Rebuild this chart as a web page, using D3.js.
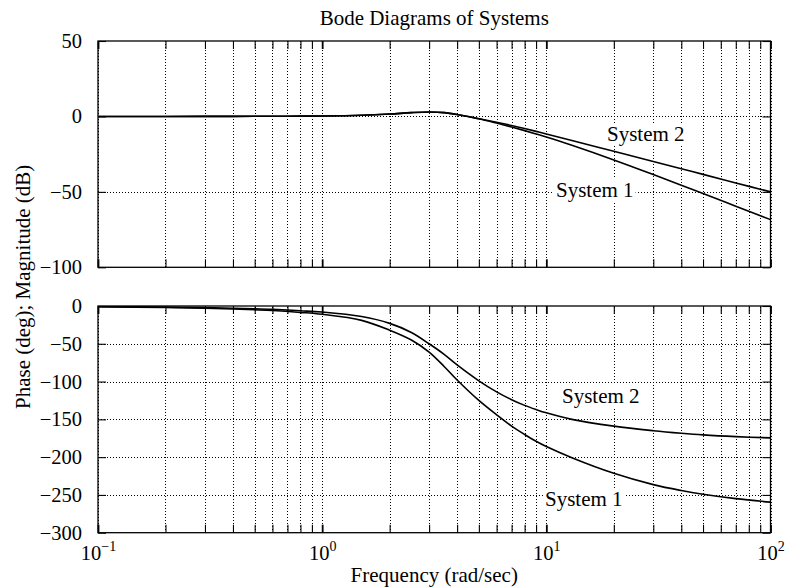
<!DOCTYPE html>
<html>
<head>
<meta charset="utf-8">
<script src="https://cdn.jsdelivr.net/npm/d3@7"></script>
<style>
  html, body { margin: 0; padding: 0; background: #fff; }
  svg { display: block; }
  svg text { font-family: "Liberation Serif", "Times New Roman", serif !important; }
</style>
</head>
<body>
<svg id="chart" width="786" height="587"></svg>
<script>
// ---------------- data ----------------
const freq = [0.1, 0.2, 0.3, 0.4, 0.5, 0.6, 0.8, 1, 1.5, 2, 2.5, 3, 3.5, 4, 5, 6, 7, 8, 9, 10, 13, 20, 30, 40, 50, 70, 100];
const magSystem1 = [0, 0, 0.02, 0.05, 0.08, 0.1, 0.2, 0.3, 0.8, 1.6, 2.5, 2.9, 2.5, 1.3, -1.5, -4.4, -7.0, -9.4, -11.6, -13.6, -19.1, -28.8, -38.5, -45.6, -51.1, -59.5, -68.4];
const magSystem2 = [0, 0, 0.02, 0.05, 0.08, 0.1, 0.2, 0.3, 0.8, 1.6, 2.5, 2.9, 2.5, 1.3, -1.5, -3.9, -6.0, -8.0, -9.9, -11.6, -15.9, -23.1, -29.9, -34.7, -38.4, -44.1, -50.0];
const phaseSystem1 = [-1, -2, -3, -4, -5, -6, -8.5, -11, -19, -32, -45, -61, -80, -98, -125, -144, -159, -170, -179, -186, -200.8, -221.4, -236.4, -244.2, -249.1, -254.9, -259.6];
const phaseSystem2 = [-0.8, -1.5, -2.2, -2.9, -3.6, -4.4, -6.3, -8, -14, -23, -35, -50, -64, -78, -99, -113.6, -124, -131.5, -137, -141.4, -150, -159, -165, -168.4, -170.6, -172.9, -174.5];

const magTicks = [50, 0, -50, -100];
const phaseTicks = [0, -50, -100, -150, -200, -250, -300];
const decadeTicks = [0.1, 1, 10, 100];
const decadeExponents = ["\u22121", "0", "1", "2"];
const seriesNames = ["System 1", "System 2"];

const titleText = "Bode Diagrams of Systems";
const xLabelText = "Frequency (rad/sec)";
const yLabelText = "Phase (deg); Magnitude (dB)";

// ---------------- layout ----------------
const svg = d3.select("#chart");
const FONT = "Liberation Serif, Times New Roman, serif";
const L = 98, R = 770.5;
const magTop = 41, magBottom = 267.3;
const phTop = 306, phBottom = 532.7;

const x = d3.scaleLog().domain([0.1, 100]).range([L, R]);
const yMag = d3.scaleLinear().domain([-100, 50]).range([magBottom, magTop]);
const yPh = d3.scaleLinear().domain([-300, 0]).range([phBottom, phTop]);

const allXTicks = x.ticks(); // 0.1,0.2,...,100
const fmtMinus = d => (d < 0 ? "\u2212" + Math.abs(d) : String(d));

function panel(id, y, top, bottom, yTicks, s1, s2, labels) {
  const g = svg.append("g");
  const h = bottom - top;

  const gridStyle = a => {
    a.select(".domain").remove();
    a.selectAll("line")
      .attr("stroke", "#000").attr("stroke-width", 1)
      .attr("stroke-dasharray", "1,2").attr("shape-rendering", "crispEdges");
  };
  // vertical grid (dotted)
  g.append("g")
    .attr("transform", `translate(0,${bottom})`)
    .call(d3.axisBottom(x).tickValues(allXTicks).tickSize(-h).tickFormat(""))
    .call(gridStyle);
  // horizontal grid (dotted)
  g.append("g")
    .attr("transform", `translate(${L},0)`)
    .call(d3.axisLeft(y).tickValues(yTicks.filter(t => t !== y.domain()[0] && t !== y.domain()[1])).tickSize(-(R - L)).tickFormat(""))
    .call(gridStyle);

  // series labels with white background (under curves)
  labels.forEach(lb => {
    const lg = g.append("g");
    const t = lg.append("text")
      .attr("x", lb.x).attr("y", lb.y)
      .style("font-family", FONT)
      .attr("font-size", 21).attr("fill", "#000")
      .text(lb.text);
    const bb = t.node().getBBox();
    lg.insert("rect", "text")
      .attr("x", bb.x - 2).attr("y", bb.y + 1).attr("width", bb.width + 4).attr("height", bb.height - 2)
      .attr("fill", "#fff");
  });

  // curves
  const clipId = "clip-" + id;
  svg.append("clipPath").attr("id", clipId)
    .append("rect").attr("x", L).attr("y", top).attr("width", R - L).attr("height", h);
  const line = d3.line()
    .x(d => x(d[0]))
    .y(d => y(d[1]))
    .curve(d3.curveCatmullRom.alpha(0.5));
  [s1, s2].forEach(s => {
    g.append("path")
      .attr("clip-path", `url(#${clipId})`)
      .attr("d", line(freq.map((f, i) => [f, s[i]])))
      .attr("fill", "none")
      .attr("stroke", "#000")
      .attr("stroke-width", 1.6);
  });

  // ticks: bottom & top edges
  const tickStyle = a => {
    a.select(".domain").remove();
    a.selectAll(".tick line").attr("stroke", "#000")
      .attr("stroke-width", d => decadeTicks.includes(d) ? 1.8 : 1.1);
  };
  g.append("g").attr("transform", `translate(0,${bottom})`)
    .call(d3.axisBottom(x).tickValues(allXTicks).tickSize(-8).tickFormat(""))
    .call(tickStyle);
  g.append("g").attr("transform", `translate(0,${top})`)
    .call(d3.axisTop(x).tickValues(allXTicks).tickSize(-8).tickFormat(""))
    .call(tickStyle);

  // y axis left (with labels) and right ticks
  g.append("g").attr("transform", `translate(${L},0)`)
    .call(d3.axisLeft(y).tickValues(yTicks).tickSizeInner(-8).tickSizeOuter(0).tickPadding(16).tickFormat(fmtMinus))
    .call(a => a.select(".domain").remove())
    .call(a => a.selectAll(".tick line").attr("stroke", "#000").attr("stroke-width", 1.1))
    .call(a => a.selectAll(".tick text").style("font-family", FONT).attr("font-size", 20.5).attr("fill", "#000"));
  g.append("g").attr("transform", `translate(${R},0)`)
    .call(d3.axisRight(y).tickValues(yTicks).tickSizeInner(-8).tickSizeOuter(0).tickFormat(""))
    .call(a => a.select(".domain").remove())
    .call(a => a.selectAll(".tick line").attr("stroke", "#000").attr("stroke-width", 1.1));

  // frame
  g.append("rect")
    .attr("x", L).attr("y", top).attr("width", R - L).attr("height", h)
    .attr("fill", "none").attr("stroke", "#000").attr("stroke-width", 1.3);
  return g;
}

panel("mag", yMag, magTop, magBottom, magTicks, magSystem1, magSystem2, [
  { text: seriesNames[1], x: 607, y: 141 },
  { text: seriesNames[0], x: 556, y: 197 }
]);
panel("ph", yPh, phTop, phBottom, phaseTicks, phaseSystem1, phaseSystem2, [
  { text: seriesNames[1], x: 562, y: 403 },
  { text: seriesNames[0], x: 545, y: 506 }
]);

// x decade labels (10^n) under the phase panel
const xl = svg.append("g").attr("transform", `translate(0,${phBottom})`)
  .call(d3.axisBottom(x).tickValues(decadeTicks).tickSize(0).tickFormat(""));
xl.select(".domain").remove();
xl.selectAll(".tick").each(function(d, i) {
  const t = d3.select(this).append("text")
    .attr("y", 27.5)
    .attr("fill", "#000")
    .attr("text-anchor", "middle")
    .style("font-family", FONT)
    .attr("font-size", 20.5);
  t.append("tspan").text("10");
  t.append("tspan").attr("dy", -9).attr("font-size", 14).text(decadeExponents[i]);
});

// title and axis labels
svg.append("text")
  .attr("x", (L + R) / 2).attr("y", 25)
  .style("font-family", FONT)
  .attr("text-anchor", "middle").attr("font-size", 21).attr("fill", "#000")
  .text(titleText);
svg.append("text")
  .attr("x", (L + R) / 2).attr("y", 582)
  .style("font-family", FONT)
  .attr("text-anchor", "middle").attr("font-size", 21).attr("fill", "#000")
  .text(xLabelText);
svg.append("text")
  .attr("transform", `translate(30,${(magTop + phBottom) / 2}) rotate(-90)`)
  .style("font-family", FONT)
  .attr("text-anchor", "middle").attr("font-size", 21).attr("fill", "#000")
  .text(yLabelText);
</script>
</body>
</html>
